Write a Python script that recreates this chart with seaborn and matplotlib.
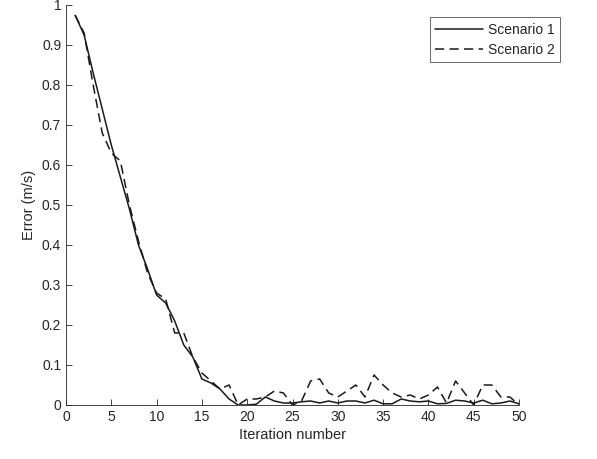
import numpy as np
import pandas as pd
import matplotlib
matplotlib.use("Agg")
import matplotlib.pyplot as plt
import seaborn as sns

# values
iterations = list(range(1, 51))
scenario_1 = [0.975, 0.925, 0.83, 0.74, 0.65, 0.57, 0.49, 0.40, 0.34, 0.275,
              0.255, 0.21, 0.15, 0.12, 0.065, 0.055, 0.04, 0.015, 0.0, 0.0,
              0.002, 0.02, 0.01, 0.005, 0.005, 0.008, 0.01, 0.005, 0.01, 0.005,
              0.01, 0.01, 0.005, 0.012, 0.003, 0.003, 0.015, 0.01, 0.008, 0.01,
              0.003, 0.004, 0.012, 0.01, 0.005, 0.012, 0.003, 0.005, 0.01, 0.003]
scenario_2 = [0.975, 0.93, 0.80, 0.68, 0.63, 0.61, 0.50, 0.41, 0.33, 0.28,
              0.265, 0.18, 0.18, 0.12, 0.08, 0.06, 0.04, 0.05, 0.0, 0.015,
              0.015, 0.02, 0.035, 0.03, 0.0, 0.01, 0.06, 0.065, 0.03, 0.02,
              0.035, 0.05, 0.02, 0.075, 0.05, 0.03, 0.02, 0.025, 0.015, 0.025,
              0.045, 0.005, 0.06, 0.03, 0.0, 0.05, 0.05, 0.02, 0.02, 0.0]
series_names = ["Scenario 1", "Scenario 2"]

df = pd.DataFrame({
    "iteration": iterations * 2,
    "error": scenario_1 + scenario_2,
    "scenario": [series_names[0]] * len(iterations) + [series_names[1]] * len(iterations),
})

sns.set_style("ticks")
plt.rcParams["font.family"] = ["Liberation Sans", "DejaVu Sans"]
plt.rcParams["xtick.direction"] = "in"
plt.rcParams["ytick.direction"] = "in"

fig = plt.figure(figsize=(5.97, 4.59), dpi=100)
ax = fig.add_axes([66 / 597, 1 - 405 / 459, (519 - 66) / 597, 400 / 459])

sns.lineplot(data=df, x="iteration", y="error", hue="scenario", style="scenario",
             palette=["#1a1a1a", "#1a1a1a"], dashes=[(1, 0), (6, 3.5)],
             linewidth=1.1, ax=ax, legend=False)

ax.set_xlim(0, 50)
ax.set_ylim(0, 1)
ax.set_xticks(np.arange(0, 51, 5))
ax.set_yticks(np.arange(0, 1.01, 0.1))
ax.set_yticklabels(["0"] + [f"{v:.1f}" for v in np.arange(0.1, 0.95, 0.1)] + ["1"])
ax.tick_params(labelsize=10, colors="#262626", length=4, width=0.6)
ax.set_xlabel("Iteration number", fontsize=10.5, color="#262626", labelpad=3)
ax.set_ylabel("Error (m/s)", fontsize=10.5, color="#262626", labelpad=4)
sns.despine(ax=ax)
for s in ["left", "bottom"]:
    ax.spines[s].set_linewidth(0.6)
    ax.spines[s].set_color("#262626")

# legend sits partly outside the axes, so anchor it to the figure
handles = [plt.Line2D([], [], color="#1a1a1a", lw=1.1),
           plt.Line2D([], [], color="#1a1a1a", lw=1.1, dashes=(6, 3.5))]
leg = fig.legend(handles, series_names, loc="upper right",
                 bbox_to_anchor=(560 / 597, 1 - 17 / 459), fontsize=10,
                 frameon=True, fancybox=False, handlelength=3.4,
                 borderpad=0.4, labelspacing=0.45, handletextpad=0.35,
                 borderaxespad=0)
leg.get_frame().set_edgecolor("#262626")
leg.get_frame().set_linewidth(0.6)

fig.savefig("out.png", dpi=100)
